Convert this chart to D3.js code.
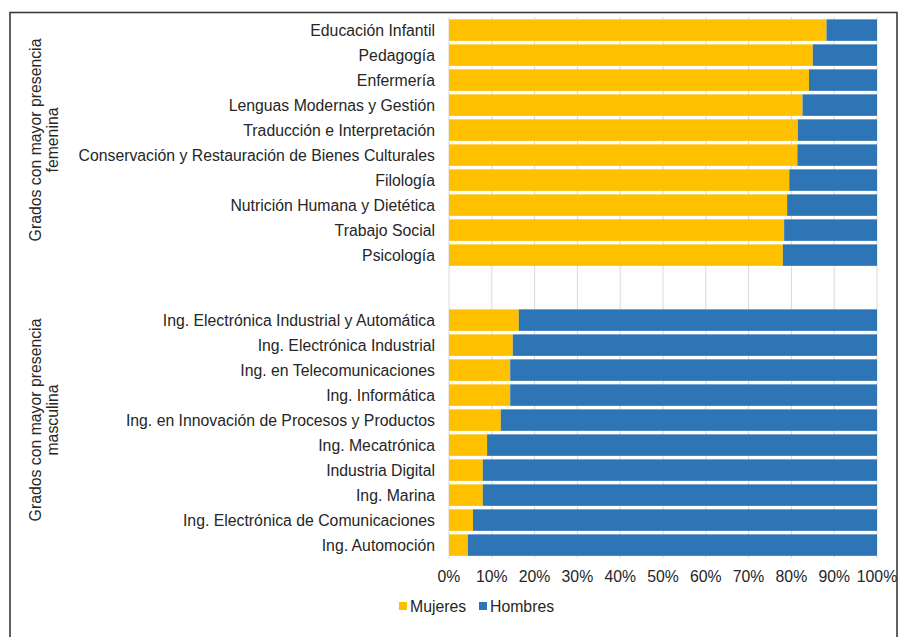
<!DOCTYPE html>
<html>
<head>
<meta charset="utf-8">
<script src="https://cdn.jsdelivr.net/npm/d3@7"></script>
<style>
  body { margin: 0; background: #fff; }
  svg { display: block; font-family: "Liberation Sans", Arial, sans-serif; }
</style>
</head>
<body>
<div id="chart"></div>
<script>
// Grados con mayor presencia femenina
const gradosFemenina = [
  'Educación Infantil', 'Pedagogía', 'Enfermería', 'Lenguas Modernas y Gestión',
  'Traducción e Interpretación', 'Conservación y Restauración de Bienes Culturales',
  'Filología', 'Nutrición Humana y Dietética', 'Trabajo Social', 'Psicología'
];
const mujeresFemenina = [88.2, 85.0, 84.1, 82.6, 81.5, 81.4, 79.5, 79.0, 78.3, 78.0];
const hombresFemenina = [11.8, 15.0, 15.9, 17.4, 18.5, 18.6, 20.5, 21.0, 21.7, 22.0];

// Grados con mayor presencia masculina
const gradosMasculina = [
  'Ing. Electrónica Industrial y Automática', 'Ing. Electrónica Industrial',
  'Ing. en Telecomunicaciones', 'Ing. Informática',
  'Ing. en Innovación de Procesos y Productos', 'Ing. Mecatrónica',
  'Industria Digital', 'Ing. Marina', 'Ing. Electrónica de Comunicaciones', 'Ing. Automoción'
];
const mujeresMasculina = [16.3, 14.9, 14.3, 14.3, 12.1, 8.9, 7.9, 7.9, 5.6, 4.4];
const hombresMasculina = [83.7, 85.1, 85.7, 85.7, 87.9, 91.1, 92.1, 92.1, 94.4, 95.6];

const tickValues = [0, 10, 20, 30, 40, 50, 60, 70, 80, 90, 100];
const series = ['Mujeres', 'Hombres'];
const colors = { Mujeres: '#FFC000', Hombres: '#2E75B6' };

const width = 898;
const height = 637;
const textColor = '#262626';
const fontSize = 15.8;

const svg = d3.select('#chart')
  .append('svg')
  .attr('width', width)
  .attr('height', height);

// outer frame
svg.append('rect')
  .attr('x', 10)
  .attr('y', 12.5)
  .attr('width', 887)
  .attr('height', 700)
  .attr('fill', 'none')
  .attr('stroke', '#3a3a3a')
  .attr('stroke-width', 1.6);

const x = d3.scaleLinear().domain([0, 100]).range([449, 877]);

// one band scale per group, same step
const groups = [
  { grados: gradosFemenina, mujeres: mujeresFemenina, hombres: hombresFemenina,
    title: ['Grados con mayor presencia', 'femenina'], range: [17.6, 267.6], titleY: 140 },
  { grados: gradosMasculina, mujeres: mujeresMasculina, hombres: hombresMasculina,
    title: ['Grados con mayor presencia', 'masculina'], range: [307.6, 557.6], titleY: 420 }
];

// gridlines
svg.append('g')
  .attr('class', 'grid')
  .selectAll('line')
  .data(tickValues)
  .enter()
  .append('line')
  .attr('x1', d => x(d))
  .attr('x2', d => x(d))
  .attr('y1', 17)
  .attr('y2', 558)
  .attr('stroke', '#d9d9d9')
  .attr('stroke-width', 1);

const stack = d3.stack().keys(series);

groups.forEach(grp => {
  const y = d3.scaleBand()
    .domain(grp.grados)
    .range(grp.range)
    .paddingInner(0.14)
    .paddingOuter(0.07);

  const rows = grp.grados.map((g, i) => ({
    grado: g,
    Mujeres: grp.mujeres[i],
    Hombres: grp.hombres[i]
  }));

  const layers = stack(rows);

  svg.append('g')
    .selectAll('g')
    .data(layers)
    .enter()
    .append('g')
    .attr('fill', d => colors[d.key])
    .selectAll('rect')
    .data(d => d)
    .enter()
    .append('rect')
    .attr('x', d => x(d[0]))
    .attr('width', d => x(d[1]) - x(d[0]))
    .attr('y', d => y(d.data.grado))
    .attr('height', y.bandwidth());

  // category labels
  svg.append('g')
    .selectAll('text')
    .data(grp.grados)
    .enter()
    .append('text')
    .attr('x', 435)
    .attr('y', d => y(d) + y.bandwidth() / 2)
    .attr('dy', '0.35em')
    .attr('text-anchor', 'end')
    .attr('font-size', fontSize)
    .attr('fill', textColor)
    .text(d => d);

  // group title, rotated
  const t = svg.append('text')
    .attr('transform', `translate(35,${grp.titleY}) rotate(-90)`)
    .attr('text-anchor', 'middle')
    .attr('font-size', fontSize)
    .attr('fill', textColor);
  grp.title.forEach((line, i) => {
    t.append('tspan')
      .attr('x', 0)
      .attr('dy', i === 0 ? '0.35em' : 17)
      .text(line);
  });
});

// x axis labels
svg.append('g')
  .selectAll('text')
  .data(tickValues)
  .enter()
  .append('text')
  .attr('x', d => x(d))
  .attr('y', 582)
  .attr('text-anchor', 'middle')
  .attr('font-size', fontSize)
  .attr('fill', textColor)
  .text(d => d + '%');

// legend
const legend = svg.append('g')
  .selectAll('g')
  .data(series)
  .enter()
  .append('g')
  .attr('transform', (d, i) => `translate(${i === 0 ? 399 : 479},0)`);

legend.append('rect')
  .attr('x', 0)
  .attr('y', 602)
  .attr('width', 8)
  .attr('height', 8)
  .attr('fill', d => colors[d]);

legend.append('text')
  .attr('x', 11)
  .attr('y', 611.5)
  .attr('font-size', fontSize)
  .attr('fill', textColor)
  .text(d => d);
</script>
</body>
</html>
